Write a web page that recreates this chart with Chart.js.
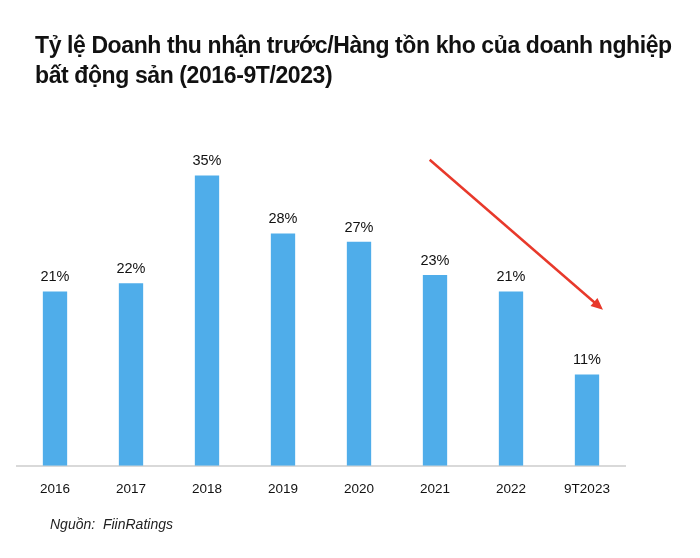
<!DOCTYPE html>
<html>
<head>
<meta charset="utf-8">
<script src="https://cdn.jsdelivr.net/npm/chart.js@4"></script>
<style>
  body { margin: 0; background: #fff; }
  #wrap { position: relative; width: 700px; height: 558px; }
  #title {
    position: absolute; left: 35px; top: 30px;
    font-family: "Liberation Sans", Arial, sans-serif; font-weight: bold;
    font-size: 23px; line-height: 30px; color: #111; letter-spacing: -0.4px;
  }
  #source {
    position: absolute; left: 50px; top: 516px;
    font-family: "Liberation Sans", Arial, sans-serif; font-style: italic;
    font-size: 14px; color: #222;
  }
  canvas { position: absolute; left: 0; top: 0; }
</style>
</head>
<body>
<div id="wrap">
  <canvas id="myChart" width="700" height="558"></canvas>
  <div id="title">Tỷ lệ Doanh thu nhận trước/Hàng tồn kho của doanh nghiệp<br>bất động sản (2016-9T/2023)</div>
  <div id="source">Nguồn:&nbsp; FiinRatings</div>
</div>
<script>
// Categories
const years = ["2016", "2017", "2018", "2019", "2020", "2021", "2022", "9T2023"];
// Ratio values (%)
const ratios = [21, 22, 35, 28, 27, 23, 21, 11];
// Trend arrow, in data units: [category index, value]
const arrowFrom = [4.93, 36.9];
const arrowTo = [7.21, 18.8];

//% labels above bars
const valueLabels = {
    id: 'valueLabels',
    afterDatasetsDraw(chart) {
        const ctx = chart.ctx;
        const meta = chart.getDatasetMeta(0);
        ctx.save();
        ctx.fillStyle = '#111';
        ctx.font = '14.5px "Liberation Sans", Arial, sans-serif';
        ctx.textAlign = 'center';
        ctx.textBaseline = 'bottom';
        meta.data.forEach((bar, i) => {
            ctx.fillText(ratios[i] + '%', bar.x, bar.y - 7);
        });
        ctx.restore();
    }
};

//Red arrow
const trendArrow = {
    id: 'trendArrow',
    afterDraw(chart) {
        const x = chart.scales.x, y = chart.scales.y;
        const x1 = x.getPixelForValue(arrowFrom[0]), y1 = y.getPixelForValue(arrowFrom[1]);
        const x2 = x.getPixelForValue(arrowTo[0]), y2 = y.getPixelForValue(arrowTo[1]);
        const ctx = chart.ctx;
        const ang = Math.atan2(y2 - y1, x2 - x1);
        const head = 13;
        ctx.save();
        ctx.strokeStyle = '#e8392b';
        ctx.fillStyle = '#e8392b';
        ctx.lineWidth = 2.5;
        ctx.beginPath();
        ctx.moveTo(x1, y1);
        ctx.lineTo(x2 - Math.cos(ang) * head * 0.8, y2 - Math.sin(ang) * head * 0.8);
        ctx.stroke();
        ctx.beginPath();
        ctx.moveTo(x2, y2);
        ctx.lineTo(x2 - head * Math.cos(ang - 0.42), y2 - head * Math.sin(ang - 0.42));
        ctx.lineTo(x2 - head * Math.cos(ang + 0.42), y2 - head * Math.sin(ang + 0.42));
        ctx.closePath();
        ctx.fill();
        ctx.restore();
    }
};

const config = {
    type: 'bar',
    data: {
        labels: years,
        datasets: [{
            data: ratios,
            backgroundColor: '#4fadea',
            barPercentage: 0.32,
            categoryPercentage: 1
        }]
    },
    options: {
        responsive: false,
        animation: false,
        layout: { padding: { left: 17, right: 75, top: 134, bottom: 46 } },
        scales: {
            x: {
                grid: { display: false, drawTicks: false },
                border: { color: '#d9d9d9', width: 2 },
                ticks: {
                    color: '#111',
                    padding: 15,
                    font: { family: '"Liberation Sans", Arial, sans-serif', size: 13.5 }
                }
            },
            y: {
                display: false,
                min: 0,
                max: 40
            }
        },
        plugins: {
            legend: { display: false },
            tooltip: { enabled: false }
        }
    },
    plugins: [valueLabels, trendArrow]
};
const myChart = new Chart(document.getElementById('myChart'), config);
</script>
</body>
</html>
